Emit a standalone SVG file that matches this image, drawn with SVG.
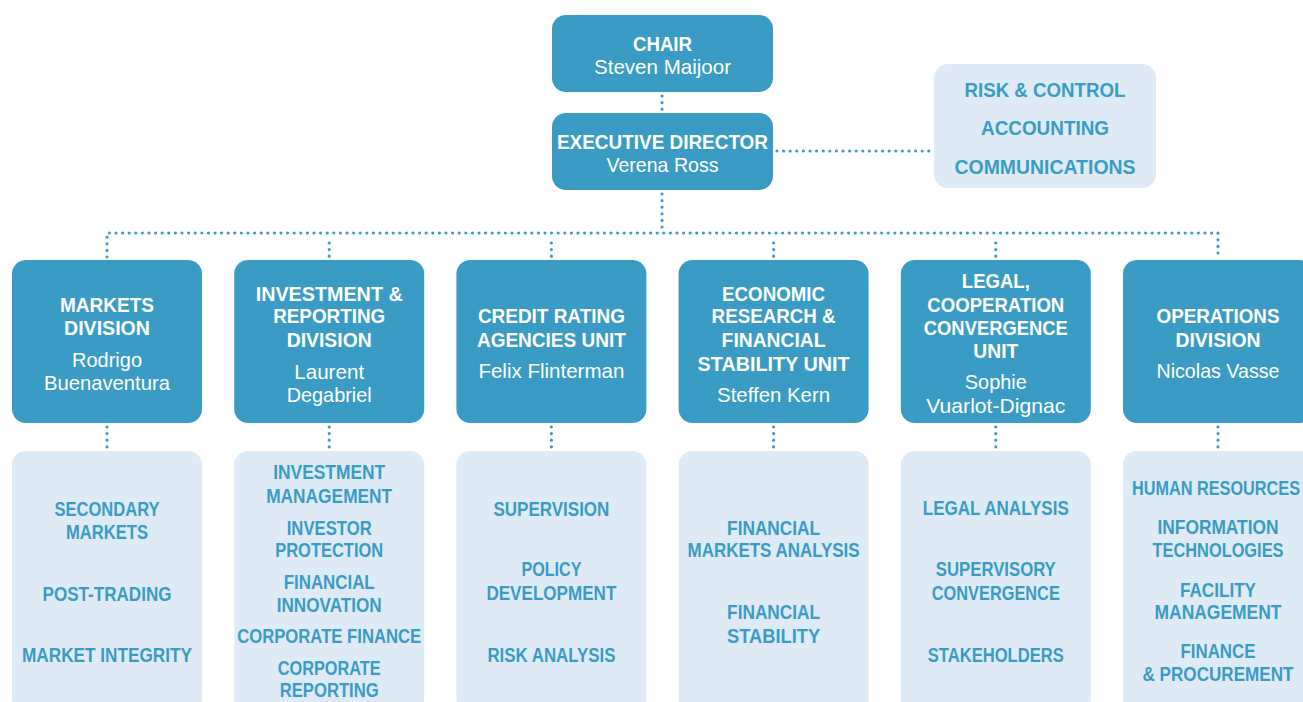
<svg xmlns="http://www.w3.org/2000/svg" width="1303" height="702" viewBox="0 0 1303 702">
  <style>
    text { font-family: "Liberation Sans Narrow", "Liberation Sans", "DejaVu Sans", sans-serif; text-anchor: middle; }
    .head { fill: #3a9cc5; }
    .sub { fill: #deeaf6; }
    .t { fill: #ffffff; font-size: 21px; font-weight: 700; }
    .n { fill: #ffffff; font-size: 21px; font-weight: 400; }
    .s { fill: #3a9cc5; font-size: 20px; font-weight: 700; }
    .c { fill: none; stroke: #3a9cc5; stroke-width: 3.2; stroke-linecap: round; stroke-dasharray: 0 6.6; }
  </style>
  <rect width="1303" height="702" fill="#ffffff"/>

  <!-- dotted reporting lines -->
  <g id="connectors">
    <path class="c" d="M662,96 V110"/>
    <path class="c" d="M777,151 H931"/>
    <path class="c" d="M662,194 V228"/>
    <path class="c" d="M107,257 V233 H1218 V257"/>
    <path class="c" d="M329.2,243 V257"/>
    <path class="c" d="M551.4,243 V257"/>
    <path class="c" d="M773.6,243 V257"/>
    <path class="c" d="M995.8,243 V257"/>
    <path class="c" d="M107,427 V447"/>
    <path class="c" d="M329.2,427 V447"/>
    <path class="c" d="M551.4,427 V447"/>
    <path class="c" d="M773.6,427 V447"/>
    <path class="c" d="M995.8,427 V447"/>
    <path class="c" d="M1218,427 V447"/>
  </g>

  <g id="chair">
    <rect class="head" x="552" y="15" width="221" height="77" rx="14"/>
    <text class="t" x="662.5" y="50.5" textLength="59" lengthAdjust="spacingAndGlyphs">CHAIR</text>
    <text class="n" x="662.5" y="73.5" textLength="137" lengthAdjust="spacingAndGlyphs">Steven Maijoor</text>
  </g>

  <g id="executive-director">
    <rect class="head" x="552" y="113" width="221" height="77" rx="14"/>
    <text class="t" x="662.5" y="148.5" textLength="211" lengthAdjust="spacingAndGlyphs">EXECUTIVE DIRECTOR</text>
    <text class="n" x="662.5" y="171.5" textLength="112" lengthAdjust="spacingAndGlyphs">Verena Ross</text>
  </g>

  <g id="staff-units">
    <rect class="sub" x="934" y="64" width="222" height="124" rx="14"/>
    <text class="s" x="1045" y="96.5" textLength="161" lengthAdjust="spacingAndGlyphs">RISK &amp; CONTROL</text>
    <text class="s" x="1045" y="135" textLength="128" lengthAdjust="spacingAndGlyphs">ACCOUNTING</text>
    <text class="s" x="1045" y="174" textLength="181" lengthAdjust="spacingAndGlyphs">COMMUNICATIONS</text>
  </g>

  <!-- divisions and units -->
  <g id="markets-division">
    <rect class="head" x="12" y="260" width="190" height="163" rx="14"/>
    <text class="t" x="107" y="311.5" textLength="94" lengthAdjust="spacingAndGlyphs">MARKETS</text>
    <text class="t" x="107" y="335" textLength="86" lengthAdjust="spacingAndGlyphs">DIVISION</text>
    <text class="n" x="107" y="366.5" textLength="70" lengthAdjust="spacingAndGlyphs">Rodrigo</text>
    <text class="n" x="107" y="389.5" textLength="126" lengthAdjust="spacingAndGlyphs">Buenaventura</text>
  </g>
  <g id="markets-teams">
    <rect class="sub" x="12" y="451" width="190" height="262" rx="14"/>
    <text class="s" x="107" y="516" textLength="105" lengthAdjust="spacingAndGlyphs">SECONDARY</text>
    <text class="s" x="107" y="539" textLength="82" lengthAdjust="spacingAndGlyphs">MARKETS</text>
    <text class="s" x="107" y="601" textLength="129" lengthAdjust="spacingAndGlyphs">POST-TRADING</text>
    <text class="s" x="107" y="662" textLength="170" lengthAdjust="spacingAndGlyphs">MARKET INTEGRITY</text>
  </g>

  <g id="investment-reporting-division">
    <rect class="head" x="234.2" y="260" width="190" height="163" rx="14"/>
    <text class="t" x="329.2" y="300.7" textLength="147" lengthAdjust="spacingAndGlyphs">INVESTMENT &amp;</text>
    <text class="t" x="329.2" y="323.3" textLength="112" lengthAdjust="spacingAndGlyphs">REPORTING</text>
    <text class="t" x="329.2" y="347.3" textLength="85" lengthAdjust="spacingAndGlyphs">DIVISION</text>
    <text class="n" x="329.2" y="379" textLength="70" lengthAdjust="spacingAndGlyphs">Laurent</text>
    <text class="n" x="329.2" y="401.7" textLength="85" lengthAdjust="spacingAndGlyphs">Degabriel</text>
  </g>
  <g id="investment-reporting-teams">
    <rect class="sub" x="234.2" y="451" width="190" height="262" rx="14"/>
    <text class="s" x="329.2" y="479.3" textLength="112" lengthAdjust="spacingAndGlyphs">INVESTMENT</text>
    <text class="s" x="329.2" y="503.3" textLength="126" lengthAdjust="spacingAndGlyphs">MANAGEMENT</text>
    <text class="s" x="329.2" y="535" textLength="85" lengthAdjust="spacingAndGlyphs">INVESTOR</text>
    <text class="s" x="329.2" y="556.7" textLength="108" lengthAdjust="spacingAndGlyphs">PROTECTION</text>
    <text class="s" x="329.2" y="589" textLength="91" lengthAdjust="spacingAndGlyphs">FINANCIAL</text>
    <text class="s" x="329.2" y="611.7" textLength="105" lengthAdjust="spacingAndGlyphs">INNOVATION</text>
    <text class="s" x="329.2" y="643.3" textLength="184" lengthAdjust="spacingAndGlyphs">CORPORATE FINANCE</text>
    <text class="s" x="329.2" y="675" textLength="103" lengthAdjust="spacingAndGlyphs">CORPORATE</text>
    <text class="s" x="329.2" y="696.7" textLength="99" lengthAdjust="spacingAndGlyphs">REPORTING</text>
  </g>

  <g id="credit-rating-agencies-unit">
    <rect class="head" x="456.4" y="260" width="190" height="163" rx="14"/>
    <text class="t" x="551.4" y="323.3" textLength="147" lengthAdjust="spacingAndGlyphs">CREDIT RATING</text>
    <text class="t" x="551.4" y="347.3" textLength="149" lengthAdjust="spacingAndGlyphs">AGENCIES UNIT</text>
    <text class="n" x="551.4" y="378.3" textLength="146" lengthAdjust="spacingAndGlyphs">Felix Flinterman</text>
  </g>
  <g id="credit-rating-teams">
    <rect class="sub" x="456.4" y="451" width="190" height="262" rx="14"/>
    <text class="s" x="551.4" y="515.5" textLength="116" lengthAdjust="spacingAndGlyphs">SUPERVISION</text>
    <text class="s" x="551.4" y="576" textLength="60" lengthAdjust="spacingAndGlyphs">POLICY</text>
    <text class="s" x="551.4" y="600" textLength="130" lengthAdjust="spacingAndGlyphs">DEVELOPMENT</text>
    <text class="s" x="551.4" y="662" textLength="128" lengthAdjust="spacingAndGlyphs">RISK ANALYSIS</text>
  </g>

  <g id="economic-research-unit">
    <rect class="head" x="678.6" y="260" width="190" height="163" rx="14"/>
    <text class="t" x="773.6" y="300.7" textLength="103" lengthAdjust="spacingAndGlyphs">ECONOMIC</text>
    <text class="t" x="773.6" y="323.3" textLength="124" lengthAdjust="spacingAndGlyphs">RESEARCH &amp;</text>
    <text class="t" x="773.6" y="347.3" textLength="104" lengthAdjust="spacingAndGlyphs">FINANCIAL</text>
    <text class="t" x="773.6" y="370.7" textLength="152" lengthAdjust="spacingAndGlyphs">STABILITY UNIT</text>
    <text class="n" x="773.6" y="401.7" textLength="113" lengthAdjust="spacingAndGlyphs">Steffen Kern</text>
  </g>
  <g id="economic-research-teams">
    <rect class="sub" x="678.6" y="451" width="190" height="262" rx="14"/>
    <text class="s" x="773.6" y="534.5" textLength="93" lengthAdjust="spacingAndGlyphs">FINANCIAL</text>
    <text class="s" x="773.6" y="557" textLength="172" lengthAdjust="spacingAndGlyphs">MARKETS ANALYSIS</text>
    <text class="s" x="773.6" y="619" textLength="93" lengthAdjust="spacingAndGlyphs">FINANCIAL</text>
    <text class="s" x="773.6" y="643" textLength="93" lengthAdjust="spacingAndGlyphs">STABILITY</text>
  </g>

  <g id="legal-cooperation-unit">
    <rect class="head" x="900.8" y="260" width="190" height="163" rx="14"/>
    <text class="t" x="995.8" y="288.3" textLength="68" lengthAdjust="spacingAndGlyphs">LEGAL,</text>
    <text class="t" x="995.8" y="311.7" textLength="137" lengthAdjust="spacingAndGlyphs">COOPERATION</text>
    <text class="t" x="995.8" y="335" textLength="144" lengthAdjust="spacingAndGlyphs">CONVERGENCE</text>
    <text class="t" x="995.8" y="358.3" textLength="45" lengthAdjust="spacingAndGlyphs">UNIT</text>
    <text class="n" x="995.8" y="389.3" textLength="62" lengthAdjust="spacingAndGlyphs">Sophie</text>
    <text class="n" x="995.8" y="413.3" textLength="139" lengthAdjust="spacingAndGlyphs">Vuarlot-Dignac</text>
  </g>
  <g id="legal-cooperation-teams">
    <rect class="sub" x="900.8" y="451" width="190" height="262" rx="14"/>
    <text class="s" x="995.8" y="515.3" textLength="146" lengthAdjust="spacingAndGlyphs">LEGAL ANALYSIS</text>
    <text class="s" x="995.8" y="576" textLength="120" lengthAdjust="spacingAndGlyphs">SUPERVISORY</text>
    <text class="s" x="995.8" y="600" textLength="128" lengthAdjust="spacingAndGlyphs">CONVERGENCE</text>
    <text class="s" x="995.8" y="662" textLength="136" lengthAdjust="spacingAndGlyphs">STAKEHOLDERS</text>
  </g>

  <g id="operations-division">
    <rect class="head" x="1123" y="260" width="190" height="163" rx="14"/>
    <text class="t" x="1218" y="323.3" textLength="123" lengthAdjust="spacingAndGlyphs">OPERATIONS</text>
    <text class="t" x="1218" y="347.3" textLength="85" lengthAdjust="spacingAndGlyphs">DIVISION</text>
    <text class="n" x="1218" y="378.3" textLength="123" lengthAdjust="spacingAndGlyphs">Nicolas Vasse</text>
  </g>
  <g id="operations-teams">
    <rect class="sub" x="1123" y="451" width="190" height="262" rx="14"/>
    <text class="s" x="1216" y="495" textLength="168" lengthAdjust="spacingAndGlyphs">HUMAN RESOURCES</text>
    <text class="s" x="1218" y="534.3" textLength="121" lengthAdjust="spacingAndGlyphs">INFORMATION</text>
    <text class="s" x="1218" y="556.7" textLength="131" lengthAdjust="spacingAndGlyphs">TECHNOLOGIES</text>
    <text class="s" x="1218" y="596.7" textLength="76" lengthAdjust="spacingAndGlyphs">FACILITY</text>
    <text class="s" x="1218" y="619.3" textLength="127" lengthAdjust="spacingAndGlyphs">MANAGEMENT</text>
    <text class="s" x="1218" y="658.3" textLength="75" lengthAdjust="spacingAndGlyphs">FINANCE</text>
    <text class="s" x="1218" y="681.3" textLength="151" lengthAdjust="spacingAndGlyphs">&amp; PROCUREMENT</text>
  </g>
</svg>
